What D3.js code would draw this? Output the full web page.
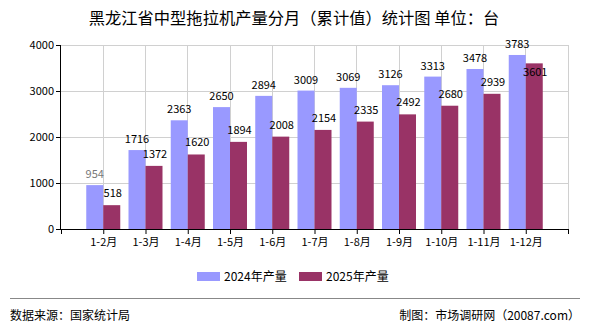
<!DOCTYPE html>
<html><head><meta charset="utf-8">
<script src="https://cdn.jsdelivr.net/npm/d3@7/dist/d3.min.js"></script>
<style>
body{margin:0;background:#fff;}
svg text{font-family:"Noto Sans CJK SC","DejaVu Sans",sans-serif;}
</style></head>
<body><svg id="c" width="590" height="330"></svg>
<script>
const categories = ["1-2月","1-3月","1-4月","1-5月","1-6月","1-7月","1-8月","1-9月","1-10月","1-11月","1-12月"];
const values2024 = [954,1716,2363,2650,2894,3009,3069,3126,3313,3478,3783];
const values2025 = [518,1372,1620,1894,2008,2154,2335,2492,2680,2939,3601];
const seriesNames = ["2024年产量","2025年产量"];
const yTicks = [0,1000,2000,3000,4000];
const title = "黑龙江省中型拖拉机产量分月（累计值）统计图 单位：台";

const colors = ["#9999FF","#993366"];
const svg = d3.select("#c");
const L = 61, R = 568, T = 45, B = 229;

const x = d3.scaleLinear().domain([0, categories.length + 1]).range([L, R]);
const y = d3.scaleLinear().domain([0, 4000]).range([B, T]);
const bw = 17;

// title
svg.append("text").attr("x", 294).attr("y", 24).attr("text-anchor","middle")
  .attr("font-size", 16.3).attr("fill","#000").text(title);

// grid
const g = svg.append("g");
yTicks.forEach(t => {
  if (t > 0) g.append("line").attr("x1", L).attr("x2", R).attr("y1", y(t)).attr("y2", y(t))
    .attr("stroke", "#d0d0d0").attr("stroke-width", 1).attr("shape-rendering","crispEdges");
});
const xt = categories.map((c,i)=>i+1).concat([categories.length+1]);
xt.forEach(t => {
  g.append("line").attr("x1", x(t)).attr("x2", x(t)).attr("y1", T).attr("y2", B)
    .attr("stroke", "#d0d0d0").attr("stroke-width", 1).attr("shape-rendering","crispEdges");
});

// bars
const data = categories.map((c,i)=>({c, i, a: values2024[i], b: values2025[i]}));
const bars = svg.append("g");
bars.selectAll("rect.a").data(data).join("rect")
  .attr("x", d => x(d.i+1) - bw).attr("width", bw)
  .attr("y", d => y(d.a)).attr("height", d => B - y(d.a)).attr("fill", colors[0]);
bars.selectAll("rect.b").data(data).join("rect")
  .attr("x", d => x(d.i+1)).attr("width", bw)
  .attr("y", d => y(d.b)).attr("height", d => B - y(d.b)).attr("fill", colors[1]);

// axes
const yAxis = d3.axisLeft(y).tickValues(yTicks).tickSize(5).tickPadding(2).tickFormat(d3.format("d"));
const ya = svg.append("g").attr("transform", `translate(${L},0)`).call(yAxis);
ya.select(".domain").attr("stroke","#000").attr("d", `M-0.5,${T}V${B}`);
ya.selectAll("line").attr("stroke","#000");
ya.selectAll("text").attr("font-size", 11).attr("fill","#000")
  .style("font-family","'Noto Sans CJK SC',sans-serif");

const xAxis = d3.axisBottom(x).tickValues([0].concat(xt)).tickSize(5).tickPadding(4)
  .tickFormat(d => (d >= 1 && d <= categories.length) ? categories[d-1] : "");
const xa = svg.append("g").attr("transform", `translate(0,${B})`).call(xAxis);
xa.select(".domain").attr("stroke","#000").attr("d", `M${L},0.5H${R}`);
xa.selectAll("line").attr("stroke","#000");
xa.selectAll("text").attr("font-size", 11).attr("fill","#000");

// labels
const lab = svg.append("g").attr("font-size", 11).attr("text-anchor","middle").attr("fill","#000");
data.forEach(d => {
  const ya1 = y(d.a) - 7;
  let yb = y(d.b) - 8;
  if (Math.abs(yb - ya1) < 10) yb = y(d.b) + 12.5;
  lab.append("text").attr("x", x(d.i+1) - bw/2).attr("y", ya1)
    .attr("fill", d.i === 0 ? "#777" : "#000").text(d.a);
  lab.append("text").attr("x", x(d.i+1) + bw/2 + 1).attr("y", yb).text(d.b);
});

// legend
const lg = svg.append("g").attr("font-size", 12);
[[197,224],[299,326]].forEach((p,i) => {
  lg.append("rect").attr("x", p[0]).attr("y", 272).attr("width", 23).attr("height", 9).attr("fill", colors[i]);
  lg.append("text").attr("x", p[1]).attr("y", 281).attr("fill","#000").text(seriesNames[i]);
});

// footer
svg.append("line").attr("x1", 10).attr("x2", 580).attr("y1", 298.5).attr("y2", 298.5)
  .attr("stroke","#888").attr("stroke-width",1);
svg.append("text").attr("x", 10).attr("y", 320).attr("font-size", 12).attr("fill","#000").text("数据来源：国家统计局");
svg.append("text").attr("x", 580).attr("y", 320).attr("font-size", 12).attr("text-anchor","end").attr("fill","#000").text("制图：市场调研网（20087.com）");
</script></body></html>
